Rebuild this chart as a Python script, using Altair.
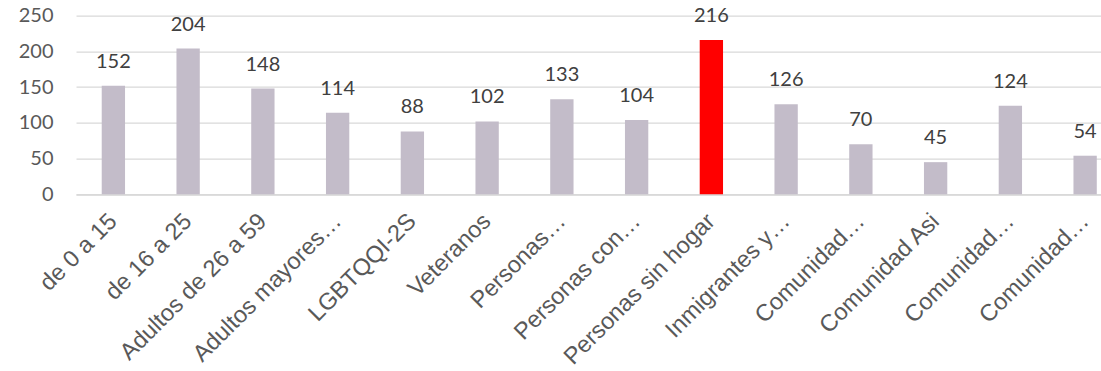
import altair as alt
import pandas as pd

etiquetas = ["de 0 a 15", "de 16 a 25", "Adultos de 26 a 59", "Adultos mayores…",
             "LGBTQQI-2S", "Veteranos", "Personas…", "Personas con…",
             "Personas sin hogar", "Inmigrantes y…", "Comunidad…", "Comunidad Asi",
             "Comunidad…", "Comunidad…"]
valores = [152, 204, 148, 114, 88, 102, 133, 104, 216, 126, 70, 45, 124, 54]
destacado = "Personas sin hogar"
ticks_y = [0, 50, 100, 150, 200, 250]

df = pd.DataFrame({"pos": list(range(len(etiquetas))), "etiqueta": etiquetas, "valor": valores})

label_expr = "[" + ",".join("'" + e + "'" for e in etiquetas) + "][datum.value]"

x = alt.X("pos:O", title=None,
          scale=alt.Scale(paddingInner=0.688, paddingOuter=0.344),
          axis=alt.Axis(labelExpr=label_expr, labelAngle=-45, labelAlign="right",
                        labelBaseline="middle", labelFont="Liberation Sans",
                        labelFontSize=23.5, labelColor="#595959", labelPadding=23,
                        ticks=False, domainColor="#d9d9d9", domainWidth=1.5,
                        labelOverlap=False, labelLimit=400))
y = alt.Y("valor:Q", title=None,
          scale=alt.Scale(domain=[0, 250], nice=False),
          axis=alt.Axis(values=ticks_y, grid=True, gridColor="#d9d9d9", gridWidth=1.3,
                        domain=False, ticks=False, labelFont="Lato", labelFontSize=20,
                        labelColor="#595959", labelPadding=23, labelOverlap=False,
                        labelBound=False, labelFlush=False))

base = alt.Chart(df).encode(x=x, y=y)

bars = base.mark_bar().encode(
    color=alt.condition(alt.datum.etiqueta == destacado, alt.value("#ff0000"), alt.value("#c3bcc9")),
)
text = base.mark_text(font="Lato", fontSize=20, color="#404040",
                      baseline="alphabetic", dy=-18).encode(text="valor:Q")

chart = alt.layer(bars, text).properties(
    width=1046.5, height=178.6,
    autosize=alt.AutoSizeParams(type="none"),
    padding={"left": 76, "top": 15.7, "right": -21.5, "bottom": 175},
).configure_view(stroke=None)

chart.save("out.html", embed_options={"renderer": "svg", "actions": False})
